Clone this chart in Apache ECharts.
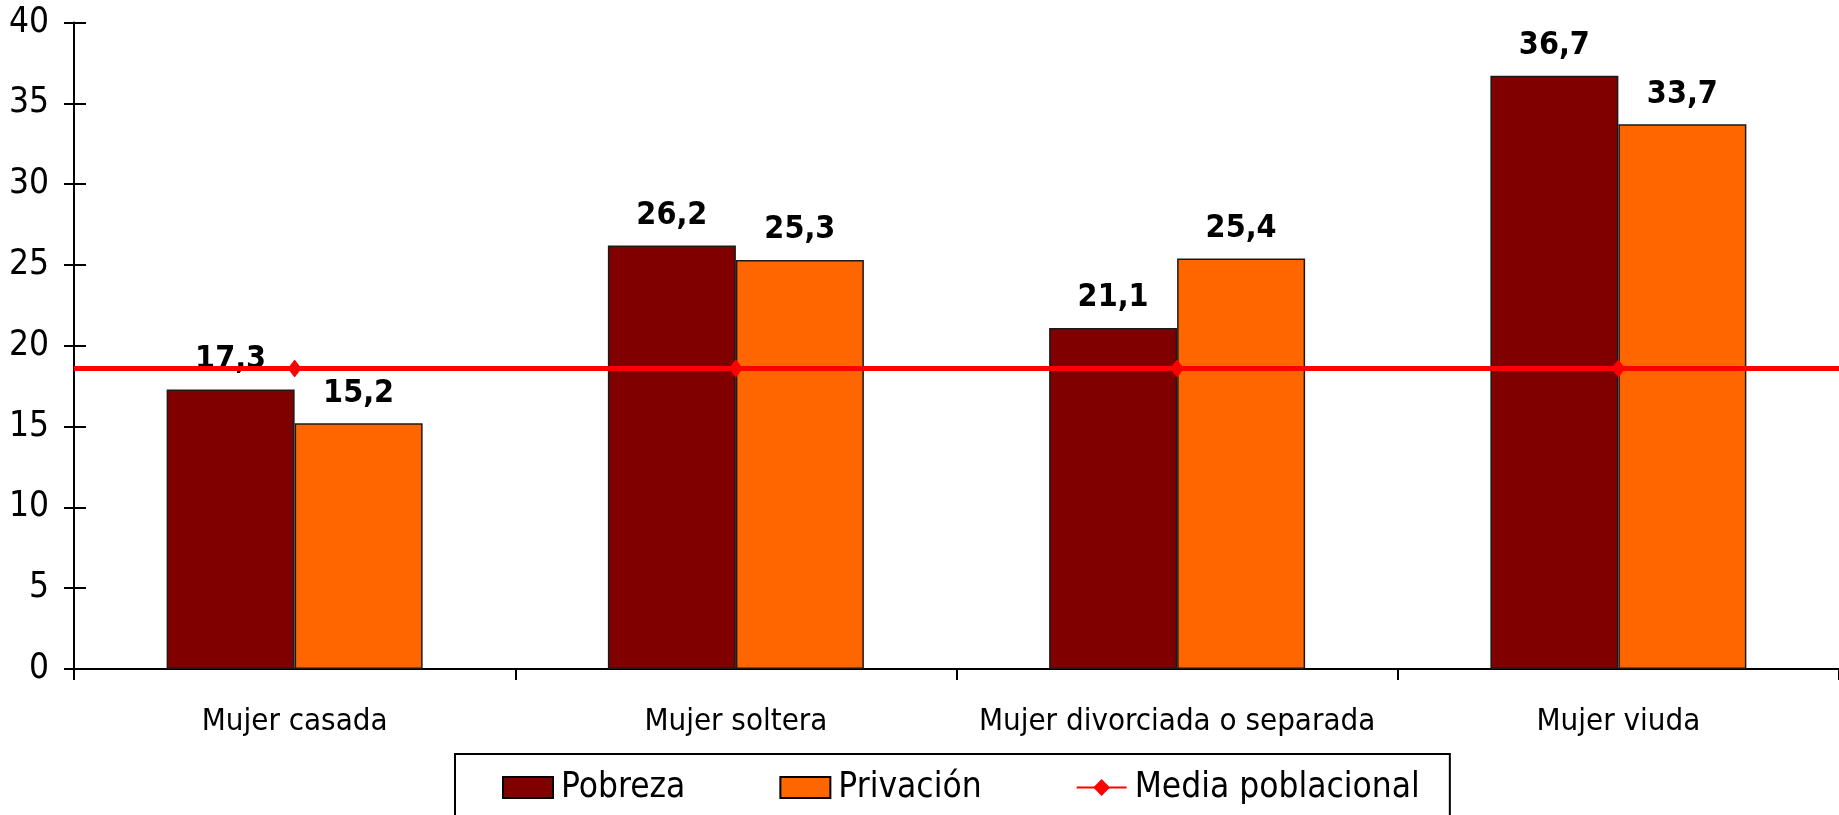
<!DOCTYPE html>
<html>
<head>
<meta charset="utf-8">
<script src="https://cdn.jsdelivr.net/npm/echarts@6/dist/echarts.min.js"></script>
<style>
html,body{margin:0;padding:0;background:#fff;}
#main{width:1839px;height:815px;}
</style>
</head>
<body>
<div id="main"></div>
<script>
var categories = ['Mujer casada', 'Mujer soltera', 'Mujer divorciada o separada', 'Mujer viuda'];
var pobreza = [17.3, 26.2, 21.1, 36.7];
var privacion = [15.2, 25.3, 25.4, 33.7];
var mediaValue = 18.6;
var media = [mediaValue, mediaValue, mediaValue, mediaValue];
var yMin = 0, yMax = 40, yStep = 5;

var FONT = "'DejaVu Sans Condensed', 'DejaVu Sans', sans-serif";
var chart = echarts.init(document.getElementById('main'), null, {renderer: 'canvas'});

function fmt(p) { return String(p.value).replace('.', ','); }

var barLabel = {
  show: true, position: 'top', distance: 14,
  fontFamily: FONT, fontWeight: 'bold', fontSize: 32, color: '#000',
  formatter: fmt
};

chart.setOption({
  animation: false,
  backgroundColor: '#fff',
  textStyle: {fontFamily: FONT},
  grid: {left: 74, right: -7, top: 22.5, bottom: 146, containLabel: false},
  legend: {
    left: 455, top: 754,
    padding: [16, 30, 40, 47],
    itemGap: 94, itemWidth: 50, itemHeight: 21,
    borderColor: '#000', borderWidth: 2,
    textStyle: {fontFamily: FONT, fontSize: 35, color: '#000', padding: [0, 0, 0, 3]},
    data: [
      {name: 'Pobreza', icon: 'rect', itemStyle: {borderColor: '#000', borderWidth: 2}},
      {name: 'Privación', icon: 'rect', itemStyle: {borderColor: '#000', borderWidth: 2}},
      {name: 'Media poblacional'}
    ]
  },
  xAxis: {
    type: 'category', data: categories,
    axisLine: {lineStyle: {color: '#000', width: 2}},
    axisTick: {show: true, interval: 0, length: 11, lineStyle: {color: '#000', width: 2}},
    axisLabel: {interval: 0, fontFamily: FONT, fontSize: 31, color: '#000', margin: 37}
  },
  yAxis: [{
    type: 'value', min: yMin, max: yMax, interval: yStep,
    splitLine: {show: false},
    axisLine: {show: true, lineStyle: {color: '#000', width: 2}},
    axisTick: {show: true, length: 10, lineStyle: {color: '#000', width: 2}},
    axisLabel: {fontFamily: FONT, fontSize: 35, color: '#000', margin: 25}
  }, {
    type: 'value', min: yMin, max: yMax, interval: yStep, position: 'left',
    splitLine: {show: false},
    axisLine: {show: false},
    axisTick: {show: true, inside: true, length: 12, lineStyle: {color: '#000', width: 2}},
    axisLabel: {show: false}
  }],
  series: [{
    name: 'Pobreza', type: 'bar', data: pobreza,
    barWidth: 128, barGap: '0%',
    itemStyle: {color: '#800000', borderColor: '#1a1a1a', borderWidth: 1.5},
    label: barLabel
  }, {
    name: 'Privación', type: 'bar', data: privacion,
    barWidth: 128, barGap: '0%',
    itemStyle: {color: '#FF6600', borderColor: '#1a1a1a', borderWidth: 1.5},
    label: barLabel
  }, {
    name: 'Media poblacional', type: 'line', data: media, z: 5,
    symbol: 'diamond', symbolSize: [14, 18],
    itemStyle: {color: '#FF0000'},
    lineStyle: {color: '#FF0000', width: 5},
    markLine: {
      silent: true, symbol: ['none', 'none'], label: {show: false},
      lineStyle: {color: '#FF0000', width: 5, type: 'solid'},
      emphasis: {disabled: true},
      data: [{yAxis: mediaValue}]
    }
  }]
});
</script>
</body>
</html>
